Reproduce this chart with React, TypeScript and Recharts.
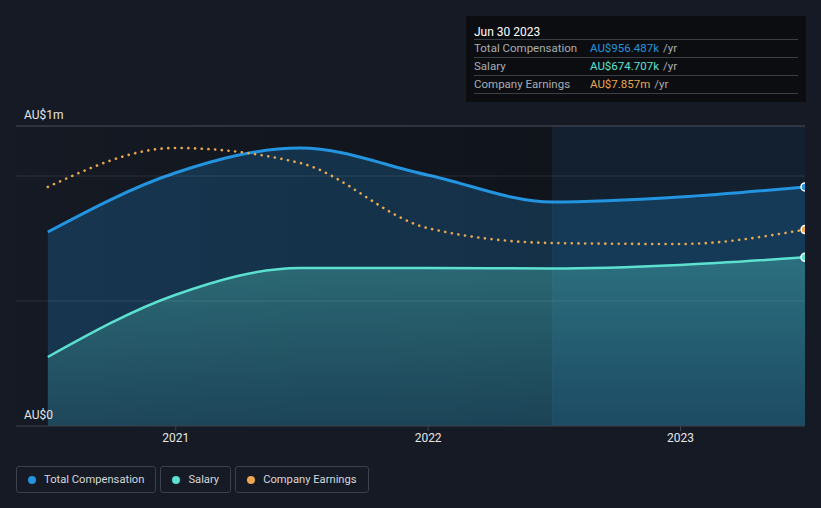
import React from 'react';
import {
  ComposedChart,
  Area,
  Line,
  XAxis,
  YAxis,
  ReferenceArea,
  ReferenceLine,
} from 'recharts';

// half-year dates of the series
const dates = [
  '2020-06-30', '2020-12-31', '2021-06-30', '2021-12-31',
  '2022-06-30', '2022-12-31', '2023-06-30',
];

// AU$ thousands
const totalCompensation = [776, 1012, 1112, 1004, 896, 916, 956.487];
const salary = [276, 524, 632, 632, 630, 644, 674.707];
// AU$ millions
const companyEarnings = [9.56, 11.12, 10.52, 7.92, 7.32, 7.28, 7.857];

const xTicks = ['2021-01-01', '2022-01-01', '2023-01-01'];
const yTickValues = [0, 1200];
const yTickLabels = ['AU$0', 'AU$1m'];
const gridValues = [500, 1000, 1200];

const COLORS = {
  comp: '#2394df',
  salary: '#5ce1d0',
  earnings: '#e9a84f',
};

const toTime = (d: string) => Date.parse(d + 'T00:00:00Z');

const data = dates.map((d, i) => ({
  t: toTime(d),
  comp: totalCompensation[i],
  salary: salary[i],
  earnings: companyEarnings[i],
}));

const lastIdx = data.length - 1;
const domainStart = toTime('2020-05-15');
const domainEnd = toTime(dates[lastIdx]);
const highlightStart = toTime('2022-06-30');

const FONT = 'Roboto, "Noto Sans", sans-serif';

const endDot = (color: string) => (props: any) => {
  const { cx, cy, index } = props;
  if (index !== lastIdx) return <g key={`d-${index}`} />;
  return <circle key={`d-${index}`} cx={cx} cy={cy} r={4} fill={color} stroke="#ffffff" strokeWidth={1.5} />;
};

const yLabel = (text: string) => (props: any) => {
  const y = props.viewBox?.y ?? 0;
  return (
    <text x={24} y={y - 11} dy="0.35em" fill="#e6e6e6" fontSize={12} fontFamily={FONT}>
      {text}
    </text>
  );
};

const legendItems = [
  { label: 'Total Compensation', color: COLORS.comp },
  { label: 'Salary', color: COLORS.salary },
  { label: 'Company Earnings', color: COLORS.earnings },
];

const fmtK = (v: number) => `AU$${v.toFixed(3)}k`;
const fmtM = (v: number) => `AU$${v.toFixed(3)}m`;

export default function App() {
  const tipRows = [
    { label: 'Total Compensation', value: fmtK(totalCompensation[lastIdx]), color: COLORS.comp },
    { label: 'Salary', value: fmtK(salary[lastIdx]), color: COLORS.salary },
    { label: 'Company Earnings', value: fmtM(companyEarnings[lastIdx]), color: COLORS.earnings },
  ];

  return (
    <div
      style={{
        position: 'absolute',
        left: 0,
        top: 0,
        width: 821,
        height: 508,
        background: '#151a24',
        fontFamily: FONT,
        overflow: 'hidden',
      }}
    >
      <ComposedChart
        width={821}
        height={508}
        data={data}
        margin={{ top: 126, right: 16, bottom: 52, left: 16 }}
        style={{ position: 'absolute', left: 0, top: 0 }}
      >
        <defs>
          <linearGradient id="pastShade" x1="0" y1="0" x2="1" y2="0">
            <stop offset="0%" stopColor="#000000" stopOpacity={0.02} />
            <stop offset="100%" stopColor="#000000" stopOpacity={0.25} />
          </linearGradient>
          <linearGradient id="salaryFill" x1="0" y1="0" x2="0" y2="1">
            <stop offset="0%" stopColor={COLORS.salary} stopOpacity={0.32} />
            <stop offset="100%" stopColor={COLORS.salary} stopOpacity={0.1} />
          </linearGradient>
        </defs>
        <XAxis
          dataKey="t"
          type="number"
          scale="time"
          domain={[domainStart, domainEnd]}
          ticks={xTicks.map(toTime)}
          tickFormatter={(v) => String(new Date(v).getUTCFullYear())}
          axisLine={{ stroke: '#3d434d' }}
          tickLine={{ stroke: '#3d434d' }}
          tickSize={5}
          tick={{ fill: '#e6e6e6', fontSize: 12, fontFamily: FONT }}
          height={30}
          allowDataOverflow
        />
        <YAxis yAxisId="comp" domain={[0, 1200]} hide width={0} allowDataOverflow />
        <YAxis yAxisId="earn" orientation="right" domain={[0, 12]} hide width={0} allowDataOverflow />

        <ReferenceArea yAxisId="comp" x1={domainStart} x2={highlightStart} y1={0} y2={1200} fill="url(#pastShade)" fillOpacity={1} stroke="none" />
        <ReferenceArea yAxisId="comp" x1={highlightStart} x2={domainEnd} y1={0} y2={1200} fill="#0e2e4c" fillOpacity={0.3} stroke="none" />
        <ReferenceLine yAxisId="comp" x={highlightStart} stroke="#ffffff" strokeOpacity={0.04} />

        <Area
          yAxisId="comp"
          type="monotone"
          dataKey="comp"
          stroke={COLORS.comp}
          strokeWidth={3}
          fill={COLORS.comp}
          fillOpacity={0.23}
          dot={endDot(COLORS.comp)}
          activeDot={false}
          isAnimationActive={false}
        />
        <Area
          yAxisId="comp"
          type="monotone"
          dataKey="salary"
          stroke={COLORS.salary}
          strokeWidth={2.5}
          fill="url(#salaryFill)"
          fillOpacity={1}
          dot={endDot(COLORS.salary)}
          activeDot={false}
          isAnimationActive={false}
        />
        <Line
          yAxisId="earn"
          type="monotone"
          dataKey="earnings"
          stroke={COLORS.earnings}
          strokeWidth={2.6}
          strokeDasharray="0.1 6.6"
          strokeLinecap="round"
          dot={endDot(COLORS.earnings)}
          activeDot={false}
          isAnimationActive={false}
        />

        {gridValues.map((v) => (
          <ReferenceLine
            key={v}
            yAxisId="comp"
            y={v}
            stroke={v === 1200 ? '#4a4f58' : '#ffffff'}
            strokeOpacity={v === 1200 ? 1 : 0.1}
          />
        ))}
        {yTickValues.map((v, i) => (
          <ReferenceLine
            key={`lbl-${v}`}
            yAxisId="comp"
            y={v}
            stroke="none"
            label={yLabel(yTickLabels[i])}
          />
        ))}
      </ComposedChart>

      {/* tooltip box for the last point */}
      <div
        style={{
          position: 'absolute',
          left: 466,
          top: 16,
          width: 340,
          height: 86,
          background: '#0b0d11',
          boxSizing: 'border-box',
          padding: '0 8px',
          fontSize: 11,
        }}
      >
        <div
          style={{
            height: 24,
            lineHeight: '16px',
            paddingTop: 8,
            boxSizing: 'border-box',
            color: '#ffffff',
            fontSize: 12,
            borderBottom: '1px solid #3a3f47',
          }}
        >
          {`Jun 30 ${new Date(domainEnd).getUTCFullYear()}`}
        </div>
        {tipRows.map((r) => (
          <div
            key={r.label}
            style={{
              height: 17,
              lineHeight: '17px',
              display: 'flex',
              borderBottom: '1px solid #3a3f47',
            }}
          >
            <span style={{ width: 116, color: '#a9adb3', fontSize: 11.5 }}>{r.label}</span>
            <span style={{ color: r.color, fontSize: 11.5 }}>{r.value}</span>
            <span style={{ color: '#a9adb3', marginLeft: 4, fontSize: 11.5 }}>/yr</span>
          </div>
        ))}
      </div>

      {/* legend */}
      <div style={{ position: 'absolute', left: 16, top: 466, display: 'flex', gap: 4 }}>
        {legendItems.map((it) => (
          <div
            key={it.label}
            style={{
              height: 27,
              boxSizing: 'border-box',
              border: '1px solid #3b404a',
              borderRadius: 3,
              padding: '0 11px',
              display: 'flex',
              alignItems: 'center',
              color: '#d5d7da',
              fontSize: 11.2,
            }}
          >
            <span
              style={{
                width: 8,
                height: 8,
                borderRadius: 4,
                background: it.color,
                marginRight: 8,
              }}
            />
            {it.label}
          </div>
        ))}
      </div>
    </div>
  );
}
